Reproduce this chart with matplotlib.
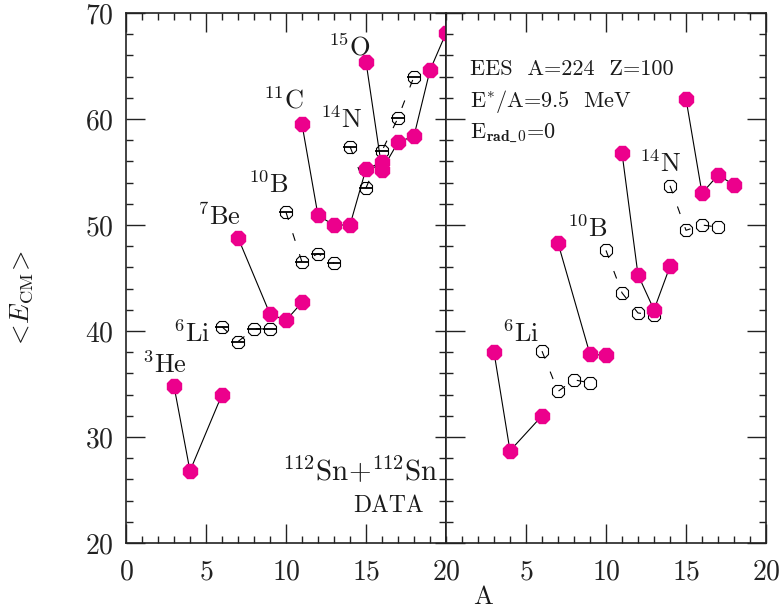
import matplotlib.pyplot as plt
from matplotlib.ticker import MultipleLocator

plt.rcParams['font.family'] = 'cmr10'
plt.rcParams['mathtext.fontset'] = 'cm'
plt.rcParams['axes.unicode_minus'] = False
plt.rcParams['axes.formatter.use_mathtext'] = True
plt.rcParams['text.color'] = '#1a1a1a'

MAG = '#EC008C'
INK = '#222222'

# ---- data: left panel (112Sn+112Sn DATA) ----
# filled chains (lines drawn through each chain)
L_fill_A = [[3, 4, 6], [7, 9, 10, 11], [11, 12, 13, 14, 15, 16], [15, 16, 17, 18, 19, 20]]
L_fill_E = [[34.8, 26.8, 34.0], [48.8, 41.6, 41.0, 42.7],
            [59.5, 50.9, 50.0, 50.0, 55.3, 55.9], [65.4, 55.2, 57.8, 58.4, 64.6, 68.1]]
# open chains
L_open_A = [[6, 7, 8, 9], [10, 11, 12, 13], [14, 15, 16, 17, 18]]
L_open_E = [[40.4, 39.0, 40.2, 40.2], [51.2, 46.5, 47.3, 46.4], [57.4, 53.5, 57.0, 60.1, 64.0]]

# ---- data: right panel (EES A=224 Z=100) ----
R_fill_A = [[3, 4, 6], [7, 9, 10], [11, 12, 13, 14], [15, 16, 17, 18]]
R_fill_E = [[38.0, 28.7, 32.0], [48.3, 37.8, 37.7], [56.8, 45.3, 42.0, 46.1], [61.9, 53.0, 54.7, 53.8]]
R_open_A = [[6, 7, 8, 9], [10, 11, 12, 13], [14, 15, 16, 17]]
R_open_E = [[38.1, 34.3, 35.4, 35.1], [47.6, 43.6, 41.7, 41.5], [53.7, 49.5, 50.0, 49.8]]

L_labels = [(1.0, 36.0, r'$^{3}$He'), (2.95, 39.0, r'$^{6}$Li'), (4.45, 50.0, r'$^{7}$Be'),
            (7.6, 53.0, r'$^{10}$B'), (8.55, 61.0, r'$^{11}$C'), (12.1, 59.15, r'$^{14}$N'),
            (12.6, 66.0, r'$^{15}$O')]
R_labels = [(3.5, 39.0, r'$^{6}$Li'), (7.55, 48.9, r'$^{10}$B'), (12.05, 55.0, r'$^{14}$N')]

fig = plt.figure(figsize=(7.82, 6.08), dpi=100)
W, H = 782, 608
ax1 = fig.add_axes([126 / W, 1 - 543 / H, 320 / W, 530 / H])
ax2 = fig.add_axes([446 / W, 1 - 543 / H, 320 / W, 530 / H])


def draw(ax, fa, fe, oa, oe, bars):
    for a, e in zip(oa, oe):
        ax.plot(a, e, color='k', lw=0.8, ls=(0, (7.2, 12.6)), zorder=1)
        ax.plot(a, e, ls='none', marker='8', ms=10, mfc='none', mec='k', mew=0.8, zorder=2)
        if bars:
            ax.plot(a, e, ls='none', marker='_', ms=10, mec='k', mew=1.3, zorder=2)
    for a, e in zip(fa, fe):
        ax.plot(a, e, color='k', lw=0.8, zorder=3)
        ax.plot(a, e, ls='none', marker='8', ms=11, color=MAG, mec=MAG, zorder=4)


draw(ax1, L_fill_A, L_fill_E, L_open_A, L_open_E, True)
draw(ax2, R_fill_A, R_fill_E, R_open_A, R_open_E, False)

for ax in (ax1, ax2):
    ax.set_xlim(0, 20)
    ax.set_ylim(20, 70)
    ax.xaxis.set_major_locator(MultipleLocator(5))
    ax.xaxis.set_minor_locator(MultipleLocator(1))
    ax.yaxis.set_major_locator(MultipleLocator(10))
    ax.yaxis.set_minor_locator(MultipleLocator(2))
    ax.tick_params(which='both', direction='in', top=True, right=True, labelsize=20, colors=INK)
    ax.tick_params(which='major', length=14, width=1.0)
    ax.tick_params(which='minor', length=5, width=1.0)
    ax.tick_params(axis='x', pad=12)
    ax.tick_params(axis='y', pad=9)
    for s in ax.spines.values():
        s.set_linewidth(1.2)
        s.set_color(INK)

# shorter ticks on the inner (right) edge of the left panel
ax1.tick_params(axis='y', which='both', right=False)
sec = ax1.secondary_yaxis('right')
sec.yaxis.set_major_locator(MultipleLocator(10))
sec.yaxis.set_minor_locator(MultipleLocator(2))
sec.tick_params(which='both', direction='in', labelright=False, colors=INK, width=1.0)
sec.tick_params(which='major', length=8)
sec.tick_params(which='minor', length=5)
sec.spines['right'].set_linewidth(1.2)
sec.spines['right'].set_color(INK)

ax2.set_yticklabels([])
ax2.set_xticks([5, 10, 15, 20])

for x, y, t in L_labels:
    ax1.text(x, y, t, fontsize=19, ha='left', va='baseline')
for x, y, t in R_labels:
    ax2.text(x, y, t, fontsize=19, ha='left', va='baseline')

ax1.text(19.5, 25.9, r'$^{112}$Sn+$^{112}$Sn', fontsize=21, ha='right', va='baseline')
ax1.text(18.6, 22.9, 'DATA', fontsize=17, ha='right', va='baseline')

ax2.text(1.5, 64.15, 'EES  A=224  Z=100', fontsize=16, ha='left', va='baseline')
ax2.text(1.5, 61.1, r'E$^{*}$/A=9.5  MeV', fontsize=16, ha='left', va='baseline')
ax2.text(1.5, 58.3, r'E$_{\mathbf{rad\_0}}$=0', fontsize=16, ha='left', va='baseline')

fig.text(483 / W, 1 - 597 / H, 'A', fontsize=19, ha='center', va='center')
fig.text(22 / W, 1 - 300 / H, r'$<\!E_{\rm CM}\!>$', fontsize=19, ha='center', va='center', rotation=90)

fig.savefig('out.png', dpi=100)
